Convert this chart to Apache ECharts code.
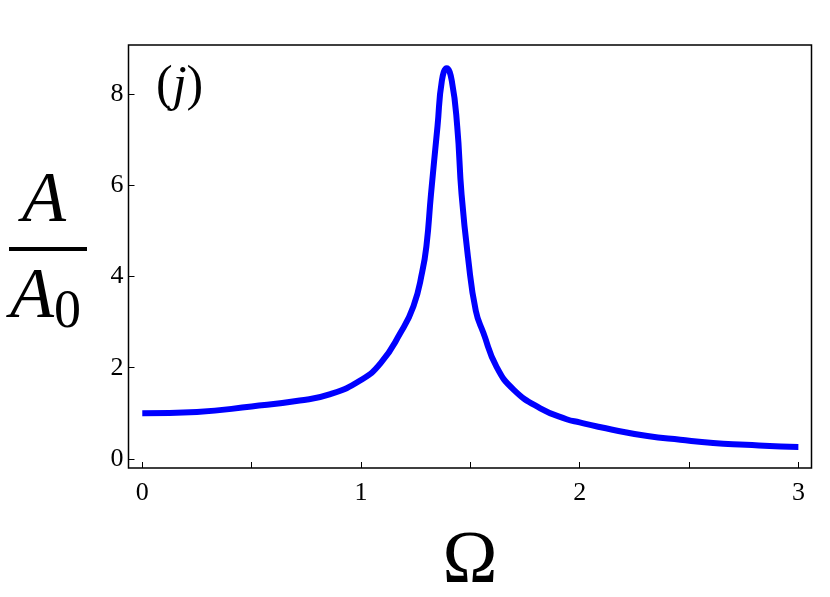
<!DOCTYPE html>
<html>
<head>
<meta charset="utf-8">
<script src="https://cdn.jsdelivr.net/npm/echarts@6/dist/echarts.min.js"></script>
<style>
    html, body { margin: 0; padding: 0; background: #fff; }
    #chart { width: 830px; height: 597px; }
</style>
</head>
<body>
<div id="chart"></div>
<script>
// values
const omega = [0, 0.25, 0.5, 0.72, 0.86, 1.0, 1.09, 1.18, 1.24, 1.28, 1.30, 1.32, 1.35, 1.37, 1.392,
    1.415, 1.44, 1.46, 1.49, 1.525, 1.56, 1.62, 1.70, 1.82, 1.94, 2.0, 2.08, 2.15, 2.31, 2.46, 2.61, 2.76, 2.92, 3.0]
const amplitude = [1.0, 1.03, 1.15, 1.28, 1.42, 1.73, 2.1, 2.76, 3.35, 4.1, 4.7, 5.8, 7.3, 8.3, 8.57,
    8.3, 7.3, 5.8, 4.4, 3.25, 2.76, 2.02, 1.51, 1.11, 0.87, 0.80, 0.71, 0.64, 0.50, 0.42, 0.35, 0.31, 0.27, 0.26]
const xLabels = [0, 1, 2, 3]
const xTicks = [0, 0.5, 1, 1.5, 2, 2.5, 3]
const yTicks = [0, 2, 4, 6, 8]

const serif = '"Liberation Serif", "DejaVu Serif", serif'
const chart = echarts.init(document.getElementById('chart'))

chart.setOption({
    animation: false,
    grid: {
        left: 128.5, right: 18.5, top: 45, bottom: 129,
        outerBoundsMode: 'none',
        show: true,
        borderColor: '#000',
        borderWidth: 1.5,
        backgroundColor: 'transparent',
    },
    xAxis: {
        type: 'value',
        min: -0.063,
        max: 3.06,
        name: 'Ω',
        nameLocation: 'middle',
        nameGap: 58,
        nameTextStyle: { fontFamily: serif, fontSize: 74, color: '#000' },
        axisLine: { show: false, onZero: false },
        axisTick: { inside: true, length: 6, customValues: xTicks, lineStyle: { color: '#000', width: 1 } },
        axisLabel: { customValues: xLabels, fontFamily: serif, fontSize: 26, color: '#000', margin: 12 },
        splitLine: { show: false },
    },
    yAxis: {
        type: 'value',
        min: -0.2,
        max: 9.08,
        axisLine: { show: false, onZero: false },
        axisTick: { inside: true, length: 6, customValues: yTicks, lineStyle: { color: '#000', width: 1 } },
        axisLabel: { customValues: yTicks, fontFamily: serif, fontSize: 26, color: '#000', margin: 5 },
        splitLine: { show: false },
    },
    graphic: [
        {
            type: 'text',
            left: 156,
            top: 62,
            style: {
                text: '{n|(}{i|j}{n|)}',
                rich: {
                    n: { fontFamily: serif, fontSize: 50, fill: '#000' },
                    i: { fontFamily: serif, fontSize: 50, fontStyle: 'italic', fill: '#000' },
                },
            },
        },
        {
            type: 'text',
            left: 22,
            top: 166,
            style: { text: 'A', fontFamily: serif, fontSize: 72, fontStyle: 'italic', fill: '#000' },
        },
        {
            type: 'rect',
            shape: { x: 9, y: 247, width: 78, height: 4 },
            style: { fill: '#000' },
        },
        {
            type: 'text',
            left: 10,
            top: 262,
            style: {
                text: '{a|A}{s|0}',
                rich: {
                    a: { fontFamily: serif, fontSize: 72, fontStyle: 'italic', fill: '#000' },
                    s: { fontFamily: serif, fontSize: 54, fill: '#000', padding: [30, 0, 0, 0] },
                },
            },
        },
    ],
    series: [
        {
            type: 'line',
            data: omega.map((x, i) => [x, amplitude[i]]),
            smooth: 0.5,
            showSymbol: false,
            lineStyle: { color: '#0000ff', width: 6 },
        },
    ],
})
</script>
</body>
</html>
